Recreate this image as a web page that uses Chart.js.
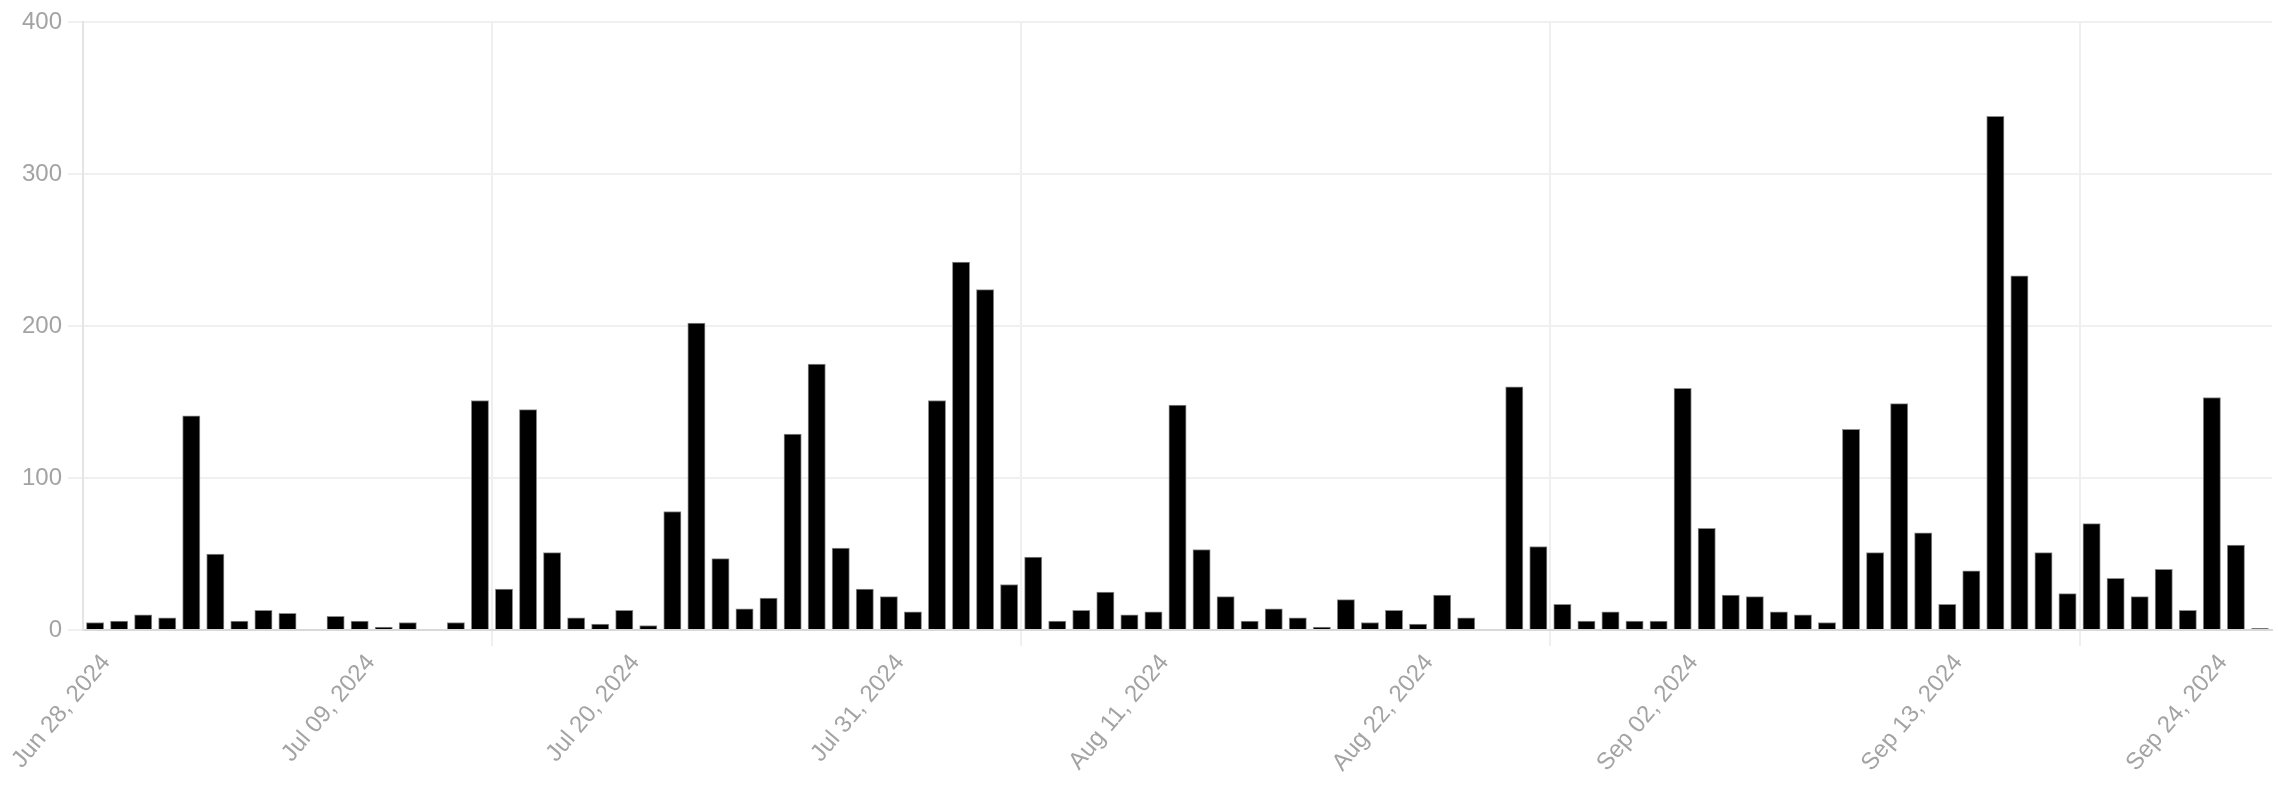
<!DOCTYPE html>
<html>
<head>
<meta charset="utf-8">
<script src="https://cdn.jsdelivr.net/npm/chart.js@4"></script>
<style>
  html, body { margin: 0; padding: 0; background: #fff; }
  #wrap { width: 2278px; height: 804px; position: relative; }
</style>
</head>
<body>
<div id="wrap"><canvas id="daily"></canvas></div>
<script>
// one bar per day, Jun 28 - Sep 26 2024
var days = [
	"Jun 28, 2024", "Jun 29, 2024", "Jun 30, 2024",
	"Jul 01, 2024", "Jul 02, 2024", "Jul 03, 2024", "Jul 04, 2024", "Jul 05, 2024", "Jul 06, 2024", "Jul 07, 2024",
	"Jul 08, 2024", "Jul 09, 2024", "Jul 10, 2024", "Jul 11, 2024", "Jul 12, 2024", "Jul 13, 2024", "Jul 14, 2024",
	"Jul 15, 2024", "Jul 16, 2024", "Jul 17, 2024", "Jul 18, 2024", "Jul 19, 2024", "Jul 20, 2024", "Jul 21, 2024",
	"Jul 22, 2024", "Jul 23, 2024", "Jul 24, 2024", "Jul 25, 2024", "Jul 26, 2024", "Jul 27, 2024", "Jul 28, 2024",
	"Jul 29, 2024", "Jul 30, 2024", "Jul 31, 2024",
	"Aug 01, 2024", "Aug 02, 2024", "Aug 03, 2024", "Aug 04, 2024", "Aug 05, 2024", "Aug 06, 2024", "Aug 07, 2024",
	"Aug 08, 2024", "Aug 09, 2024", "Aug 10, 2024", "Aug 11, 2024", "Aug 12, 2024", "Aug 13, 2024", "Aug 14, 2024",
	"Aug 15, 2024", "Aug 16, 2024", "Aug 17, 2024", "Aug 18, 2024", "Aug 19, 2024", "Aug 20, 2024", "Aug 21, 2024",
	"Aug 22, 2024", "Aug 23, 2024", "Aug 24, 2024", "Aug 25, 2024", "Aug 26, 2024", "Aug 27, 2024", "Aug 28, 2024",
	"Aug 29, 2024", "Aug 30, 2024", "Aug 31, 2024",
	"Sep 01, 2024", "Sep 02, 2024", "Sep 03, 2024", "Sep 04, 2024", "Sep 05, 2024", "Sep 06, 2024", "Sep 07, 2024",
	"Sep 08, 2024", "Sep 09, 2024", "Sep 10, 2024", "Sep 11, 2024", "Sep 12, 2024", "Sep 13, 2024", "Sep 14, 2024",
	"Sep 15, 2024", "Sep 16, 2024", "Sep 17, 2024", "Sep 18, 2024", "Sep 19, 2024", "Sep 20, 2024", "Sep 21, 2024",
	"Sep 22, 2024", "Sep 23, 2024", "Sep 24, 2024", "Sep 25, 2024", "Sep 26, 2024"
];

var counts = [
	5, 6, 10, 8, 141, 50, 6, 13, 11, 0,
	9, 6, 2, 5, 0, 5, 151, 27, 145, 51,
	8, 4, 13, 3, 78, 202, 47, 14, 21, 129,
	175, 54, 27, 22, 12, 151, 242, 224, 30, 48,
	6, 13, 25, 10, 12, 148, 53, 22, 6, 14,
	8, 2, 20, 5, 13, 4, 23, 8, 0, 160,
	55, 17, 6, 12, 6, 6, 159, 67, 23, 22,
	12, 10, 5, 132, 51, 149, 64, 17, 39, 338,
	233, 51, 24, 70, 34, 22, 40, 13, 153, 56,
	1
];

var yTicks = [0, 100, 200, 300, 400];

Chart.defaults.font.family = "'Liberation Sans', Arial, sans-serif";
Chart.defaults.font.size = 24;
Chart.defaults.color = "#a3a3a3";

var ctx = document.getElementById("daily").getContext("2d");
var chart = new Chart(ctx, {
	type: "bar",
	data: {
		labels: days,
		datasets: [{
			data: counts,
			backgroundColor: "#000",
			borderColor: "#8c8c8c",
			borderWidth: 1,
			inflateAmount: 0.33
		}]
	},
	options: {
		responsive: true,
		maintainAspectRatio: false,
		animation: false,
		layout: { padding: { top: 22, right: 6, bottom: 24, left: 16 } },
		plugins: {
			legend: { display: false },
			tooltip: { enabled: false }
		},
		scales: {
			x: {
				grid: {
					// only every other skipped tick gets a line
					color: function(c) { return c.index % 2 === 0 ? "#efefef" : "rgba(0,0,0,0)"; },
					lineWidth: 2,
					tickLength: 16
				},
				border: { color: "#d9d9d9", width: 2 },
				ticks: {
					maxTicksLimit: 9,
					minRotation: 50,
					maxRotation: 50,
					padding: 3,
					// backdrop on (but invisible) keeps the label end on the tick
					showLabelBackdrop: true,
					backdropColor: "rgba(0,0,0,0)",
					backdropPadding: 0
				}
			},
			y: {
				min: yTicks[0],
				max: yTicks[yTicks.length - 1],
				grid: { color: "#f0f0f0", lineWidth: 2, tickLength: 15 },
				border: { color: "#e4e4e4", width: 2 },
				ticks: {
					stepSize: 100,
					padding: 6,
					callback: function(v) { return yTicks.indexOf(v) >= 0 ? v : null; }
				}
			}
		}
	}
});
</script>
</body>
</html>
